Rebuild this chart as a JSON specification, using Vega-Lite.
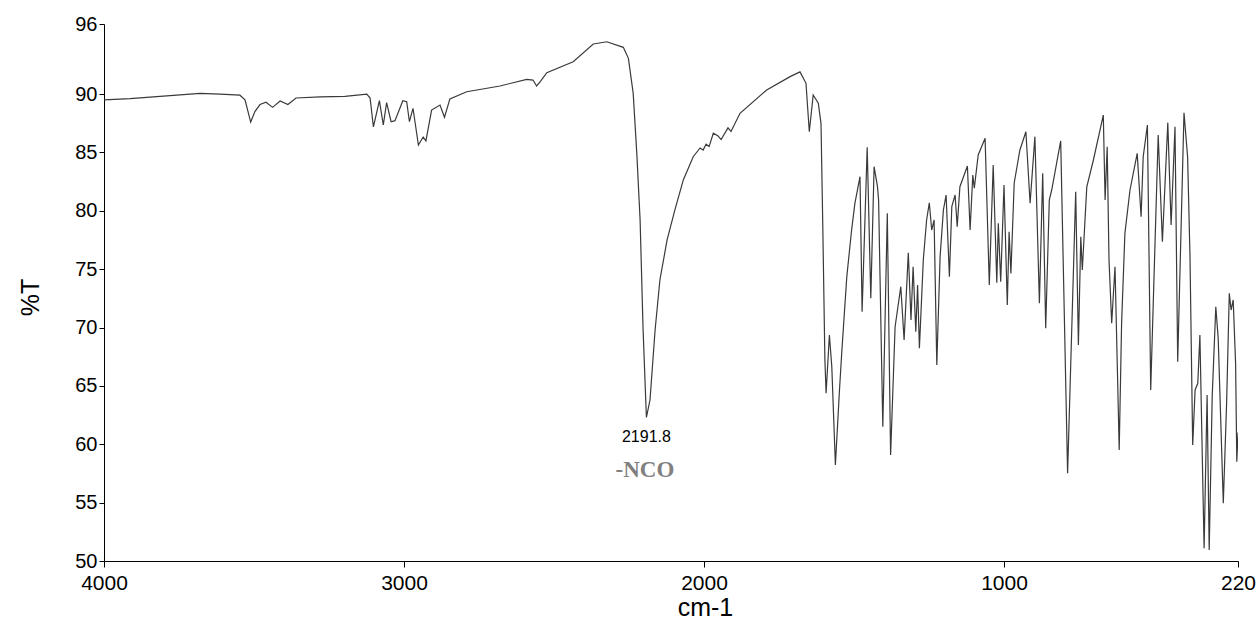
{
  "$schema": "https://vega.github.io/schema/vega-lite/v6.json",
  "width": 1134,
  "height": 537,
  "autosize": {"type": "none"},
  "padding": {"left": 104, "top": 24, "right": 21, "bottom": 65},
  "background": "white",
  "config": {"view": {"stroke": null}, "font": "Liberation Sans"},
  "datasets": {
    "spectrum": [
      {"w": 4000, "t": 89.5}, {"w": 3913, "t": 89.6}, {"w": 3813, "t": 89.8}, {"w": 3680, "t": 90.05}, {"w": 3613, "t": 90.0},
      {"w": 3547, "t": 89.9}, {"w": 3530, "t": 89.5}, {"w": 3511, "t": 87.6}, {"w": 3497, "t": 88.5}, {"w": 3480, "t": 89.1},
      {"w": 3460, "t": 89.3}, {"w": 3438, "t": 88.86}, {"w": 3413, "t": 89.4}, {"w": 3387, "t": 89.1}, {"w": 3360, "t": 89.66},
      {"w": 3280, "t": 89.75}, {"w": 3197, "t": 89.8}, {"w": 3124, "t": 90.0}, {"w": 3113, "t": 89.66}, {"w": 3102, "t": 87.18},
      {"w": 3082, "t": 89.43}, {"w": 3069, "t": 87.35}, {"w": 3058, "t": 89.26}, {"w": 3043, "t": 87.63}, {"w": 3030, "t": 87.72},
      {"w": 3004, "t": 89.43}, {"w": 2991, "t": 89.34}, {"w": 2982, "t": 87.63}, {"w": 2970, "t": 88.78}, {"w": 2952, "t": 85.63},
      {"w": 2936, "t": 86.32}, {"w": 2927, "t": 85.98}, {"w": 2908, "t": 88.63}, {"w": 2880, "t": 89.06}, {"w": 2865, "t": 88.01},
      {"w": 2847, "t": 89.58}, {"w": 2791, "t": 90.2}, {"w": 2680, "t": 90.69}, {"w": 2591, "t": 91.26}, {"w": 2570, "t": 91.2},
      {"w": 2558, "t": 90.69}, {"w": 2547, "t": 91.03}, {"w": 2524, "t": 91.83}, {"w": 2436, "t": 92.77}, {"w": 2369, "t": 94.29},
      {"w": 2324, "t": 94.48}, {"w": 2269, "t": 94.0}, {"w": 2252, "t": 93.06}, {"w": 2236, "t": 90.06}, {"w": 2224, "t": 84.92},
      {"w": 2213, "t": 79.21}, {"w": 2203, "t": 69.79}, {"w": 2192, "t": 62.3}, {"w": 2180, "t": 63.79}, {"w": 2163, "t": 69.79},
      {"w": 2147, "t": 74.07}, {"w": 2123, "t": 77.5}, {"w": 2097, "t": 80.07}, {"w": 2069, "t": 82.64}, {"w": 2036, "t": 84.63},
      {"w": 2013, "t": 85.38}, {"w": 2003, "t": 85.2}, {"w": 1993, "t": 85.7}, {"w": 1983, "t": 85.5}, {"w": 1969, "t": 86.64},
      {"w": 1953, "t": 86.4}, {"w": 1943, "t": 86.1}, {"w": 1920, "t": 87.1}, {"w": 1910, "t": 86.8}, {"w": 1880, "t": 88.35},
      {"w": 1791, "t": 90.35}, {"w": 1713, "t": 91.49}, {"w": 1680, "t": 91.9}, {"w": 1660, "t": 90.92}, {"w": 1649, "t": 86.77},
      {"w": 1636, "t": 89.92}, {"w": 1619, "t": 89.21}, {"w": 1610, "t": 87.49}, {"w": 1604, "t": 78.64}, {"w": 1597, "t": 67.22},
      {"w": 1593, "t": 64.37}, {"w": 1582, "t": 69.36}, {"w": 1574, "t": 66.64}, {"w": 1562, "t": 58.22}, {"w": 1549, "t": 64.37},
      {"w": 1541, "t": 67.79}, {"w": 1524, "t": 74.35}, {"w": 1508, "t": 78.35}, {"w": 1497, "t": 80.64}, {"w": 1480, "t": 82.92},
      {"w": 1473, "t": 71.36}, {"w": 1456, "t": 85.44}, {"w": 1444, "t": 72.5}, {"w": 1433, "t": 83.78}, {"w": 1422, "t": 82.12},
      {"w": 1418, "t": 80.92}, {"w": 1404, "t": 61.5}, {"w": 1389, "t": 79.78}, {"w": 1378, "t": 59.08}, {"w": 1363, "t": 70.07},
      {"w": 1344, "t": 73.5}, {"w": 1333, "t": 68.93}, {"w": 1319, "t": 76.41}, {"w": 1310, "t": 70.64}, {"w": 1303, "t": 75.21},
      {"w": 1294, "t": 69.64}, {"w": 1288, "t": 73.64}, {"w": 1282, "t": 68.22}, {"w": 1269, "t": 75.78}, {"w": 1258, "t": 79.21},
      {"w": 1249, "t": 80.69}, {"w": 1241, "t": 78.35}, {"w": 1233, "t": 79.21}, {"w": 1224, "t": 66.79}, {"w": 1213, "t": 76.07},
      {"w": 1202, "t": 80.07}, {"w": 1193, "t": 81.35}, {"w": 1182, "t": 74.35}, {"w": 1174, "t": 80.35}, {"w": 1163, "t": 81.35},
      {"w": 1156, "t": 78.64}, {"w": 1147, "t": 82.06}, {"w": 1122, "t": 83.84}, {"w": 1113, "t": 78.35}, {"w": 1104, "t": 83.07},
      {"w": 1099, "t": 81.93}, {"w": 1086, "t": 84.78}, {"w": 1063, "t": 86.21}, {"w": 1049, "t": 73.64}, {"w": 1036, "t": 83.92},
      {"w": 1024, "t": 73.84}, {"w": 1019, "t": 78.93}, {"w": 1011, "t": 73.93}, {"w": 1000, "t": 82.21}, {"w": 989, "t": 71.93},
      {"w": 983, "t": 78.21}, {"w": 977, "t": 74.64}, {"w": 966, "t": 82.38}, {"w": 947, "t": 85.21}, {"w": 927, "t": 86.77},
      {"w": 913, "t": 80.64}, {"w": 897, "t": 86.35}, {"w": 882, "t": 72.07}, {"w": 871, "t": 83.21}, {"w": 861, "t": 69.93},
      {"w": 849, "t": 80.92}, {"w": 841, "t": 81.78}, {"w": 811, "t": 85.98}, {"w": 788, "t": 57.51}, {"w": 761, "t": 81.63},
      {"w": 752, "t": 68.5}, {"w": 744, "t": 77.78}, {"w": 739, "t": 74.93}, {"w": 724, "t": 82.06}, {"w": 702, "t": 84.35},
      {"w": 669, "t": 88.2}, {"w": 663, "t": 80.92}, {"w": 656, "t": 85.49}, {"w": 650, "t": 75.78}, {"w": 641, "t": 70.36},
      {"w": 630, "t": 75.21}, {"w": 622, "t": 66.36}, {"w": 616, "t": 59.51}, {"w": 608, "t": 70.36}, {"w": 597, "t": 78.07},
      {"w": 580, "t": 81.78}, {"w": 556, "t": 84.92}, {"w": 543, "t": 79.49}, {"w": 536, "t": 84.63}, {"w": 522, "t": 87.35},
      {"w": 511, "t": 64.65}, {"w": 486, "t": 86.49}, {"w": 472, "t": 77.35}, {"w": 454, "t": 87.55}, {"w": 443, "t": 78.78},
      {"w": 430, "t": 87.2}, {"w": 421, "t": 67.07}, {"w": 400, "t": 88.4}, {"w": 388, "t": 84.63}, {"w": 380, "t": 76.07},
      {"w": 371, "t": 59.94}, {"w": 363, "t": 64.65}, {"w": 354, "t": 65.22}, {"w": 347, "t": 69.36}, {"w": 333, "t": 51.09},
      {"w": 323, "t": 64.22}, {"w": 316, "t": 50.94}, {"w": 306, "t": 64.08}, {"w": 294, "t": 71.78}, {"w": 286, "t": 69.08},
      {"w": 269, "t": 54.94}, {"w": 258, "t": 63.51}, {"w": 249, "t": 72.93}, {"w": 243, "t": 71.5}, {"w": 236, "t": 72.36},
      {"w": 228, "t": 66.93}, {"w": 224, "t": 58.51}, {"w": 220, "t": 61.0}
    ],
    "labels": [
      {"w": 2192, "t": 60.6, "text": "2191.8", "kind": "peak"},
      {"w": 2197, "t": 57.8, "text": "-NCO", "kind": "group"}
    ]
  },
  "layer": [
    {
      "data": {"name": "spectrum"},
      "mark": {"type": "line", "color": "#3a3a3a", "strokeWidth": 1.2, "clip": true},
      "encoding": {
        "x": {
          "field": "w", "type": "quantitative",
          "scale": {"domain": [220, 4000], "reverse": true, "nice": false, "zero": false},
          "axis": {
            "values": [4000, 3000, 2000, 1000, 220],
            "grid": false,
            "title": "cm-1",
            "titleFont": "Liberation Sans", "titleFontSize": 25, "titleFontWeight": "normal", "titleColor": "#000",
            "titleX": 601, "titleY": 46, "titleBaseline": "middle", "titleAlign": "center",
            "labelFont": "Liberation Sans", "labelFontSize": 21, "labelColor": "#000",
            "labelOverlap": false, "labelBound": false, "labelFlush": false,
            "labelPadding": 5, "tickSize": 6, "tickColor": "#000", "domainColor": "#000",
            "format": "d"
          }
        },
        "y": {
          "field": "t", "type": "quantitative",
          "scale": {"domain": [50, 96], "nice": false, "zero": false},
          "axis": {
            "values": [50, 55, 60, 65, 70, 75, 80, 85, 90, 96],
            "grid": false,
            "title": "%T",
            "titleFont": "Liberation Sans", "titleFontSize": 25, "titleFontWeight": "normal", "titleColor": "#000",
            "titleX": -74, "titleY": 273, "titleBaseline": "middle", "titleAlign": "center", "titleAngle": -90,
            "labelFont": "Liberation Sans", "labelFontSize": 20, "labelColor": "#000",
            "labelOverlap": false, "labelBound": false, "labelFlush": false,
            "labelPadding": 2, "tickSize": 5, "tickColor": "#000", "domainColor": "#000"
          }
        }
      }
    },
    {
      "data": {"name": "labels"},
      "transform": [{"filter": "datum.kind === 'peak'"}],
      "mark": {"type": "text", "font": "Liberation Sans", "fontSize": 16, "color": "#000", "align": "center", "baseline": "middle"},
      "encoding": {
        "x": {"field": "w", "type": "quantitative"},
        "y": {"field": "t", "type": "quantitative"},
        "text": {"field": "text"}
      }
    },
    {
      "data": {"name": "labels"},
      "transform": [{"filter": "datum.kind === 'group'"}],
      "mark": {"type": "text", "font": "Liberation Serif", "fontSize": 23, "fontWeight": "bold", "color": "#808080", "align": "center", "baseline": "middle"},
      "encoding": {
        "x": {"field": "w", "type": "quantitative"},
        "y": {"field": "t", "type": "quantitative"},
        "text": {"field": "text"}
      }
    }
  ]
}
